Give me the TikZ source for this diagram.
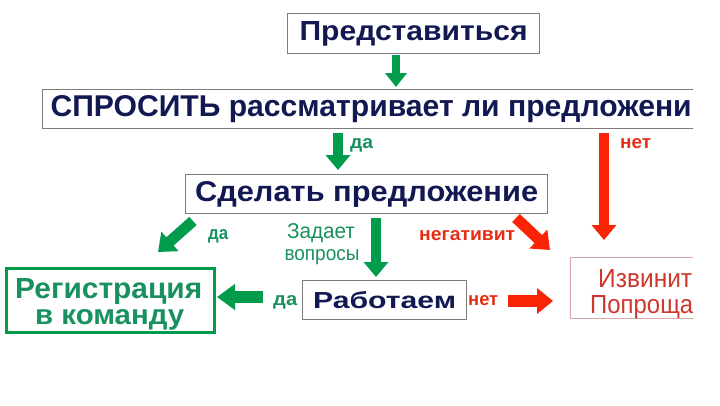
\documentclass[tikz,border=0pt]{standalone}
\usepackage{fontspec}
\setmainfont{Liberation Sans}
\usetikzlibrary{arrows.meta}
\definecolor{navy}{RGB}{18,24,82}
\definecolor{garrow}{RGB}{0,155,75}
\definecolor{gtext}{RGB}{25,145,95}
\definecolor{rarrow}{RGB}{250,35,5}
\definecolor{rtext}{RGB}{230,45,20}
\definecolor{stext}{RGB}{205,55,45}
\definecolor{sborder}{RGB}{215,165,165}
\definecolor{bgrey}{RGB}{125,125,125}
\newcommand{\fitwh}[3]{\resizebox{#1pt}{#2pt}{#3}}
\begin{document}
\begin{tikzpicture}[x=1pt,y=-1pt,
  box/.style={draw=bgrey, line width=1.2pt, fill=white, inner sep=0pt, text=navy, font=\bfseries, anchor=north west},
  lbl/.style={inner sep=0pt, font=\bfseries, anchor=base west},
  glbl/.style={lbl, text=gtext},
  rlbl/.style={lbl, text=rtext},
  blk/.style={line width=10pt, -{Triangle[width=24pt,length=15pt]}},
  gblk/.style={blk, draw=garrow, fill=garrow},
  rblk/.style={blk, draw=rarrow, fill=rarrow}]
\useasboundingbox[fill=white] (0,0) rectangle (720,405);

% boxes
\node[box, minimum width=252pt, minimum height=40pt] (intro) at (287,13) {\fitwh{228}{19}{Представиться}};
\begin{scope}
\clip (0,0) rectangle (693,405);
\node[box, minimum width=657pt, minimum height=39pt] (ask) at (42,89) {\fitwh{641}{21}{СПРОСИТЬ рассматривает ли предложени}};
\node[box, draw=sborder, minimum width=200pt, minimum height=61pt] (sorry) at (570,257) {};
\node[inner sep=0pt, anchor=base west, text=stext] (sorry1) at (598,287) {\fitwh{94}{18}{Извинит}};
\node[inner sep=0pt, anchor=base west, text=stext] (sorry2) at (590,313) {\fitwh{103}{18}{Попроща}};
\end{scope}
\node[box, minimum width=362pt, minimum height=39pt] (offer) at (185,174) {\fitwh{343}{20}{Сделать предложение}};
\node[box, draw=garrow, line width=3pt, minimum width=208pt, minimum height=64pt] (reg) at (5,267) {};
\node[inner sep=0pt, anchor=base west, text=gtext, font=\bfseries] (reg1) at (15,298) {\fitwh{187}{20}{Регистрация}};
\node[inner sep=0pt, anchor=base west, text=gtext, font=\bfseries] (reg2) at (35,324) {\fitwh{149}{15}{в команду}};
\node[box, minimum width=164pt, minimum height=39pt] (work) at (302,280) {\fitwh{143}{17}{Работаем}};

% labels
\node[glbl] (da1) at (350,148) {\fitwh{23}{10}{да}};
\node[rlbl] (net1) at (620,148) {\fitwh{31}{10}{нет}};
\node[glbl] (da2) at (208,239) {\fitwh{20}{10}{да}};
\node[inner sep=0pt, anchor=base, text=gtext] (zad1) at (321,238) {\fitwh{68}{15}{Задает}};
\node[inner sep=0pt, anchor=base, text=gtext] (zad2) at (322,260) {\fitwh{75}{11}{вопросы}};
\node[rlbl] (neg) at (419,240) {\fitwh{96}{10}{негативит}};
\node[glbl] (da3) at (273,305) {\fitwh{24}{10}{да}};
\node[rlbl] (net2) at (468,305) {\fitwh{30}{10}{нет}};

% arrow end points
\coordinate (a1s) at (396,55);  \coordinate (a1e) at (396,87);
\coordinate (a2s) at (338,133); \coordinate (a2e) at (338,170);
\coordinate (a3s) at (604,133); \coordinate (a3e) at (604,240);
\coordinate (a4s) at (193,221); \coordinate (a4e) at (158,252);
\coordinate (a5s) at (376,218); \coordinate (a5e) at (376,277);
\coordinate (a6s) at (516,218); \coordinate (a6e) at (550,250);
\coordinate (a7s) at (263,297); \coordinate (a7e) at (217,297);
\coordinate (a8s) at (508,301); \coordinate (a8e) at (553,301);

\draw[gblk, line width=8pt, -{Triangle[width=21pt,length=14pt]}] (a1s) -- (a1e);
\draw[gblk] (a2s) -- (a2e);
\draw[rblk] (a3s) -- (a3e);
\draw[gblk, line width=11pt, -{Triangle[width=25pt,length=16pt]}] (a4s) -- (a4e);
\draw[gblk] (a5s) -- (a5e);
\draw[rblk, line width=11pt, -{Triangle[width=25pt,length=16pt]}] (a6s) -- (a6e);
\draw[gblk, line width=12pt, -{Triangle[width=25pt,length=18pt]}] (a7s) -- (a7e);
\draw[rblk, line width=12pt, -{Triangle[width=25pt,length=16pt]}] (a8s) -- (a8e);
\end{tikzpicture}
\end{document}
